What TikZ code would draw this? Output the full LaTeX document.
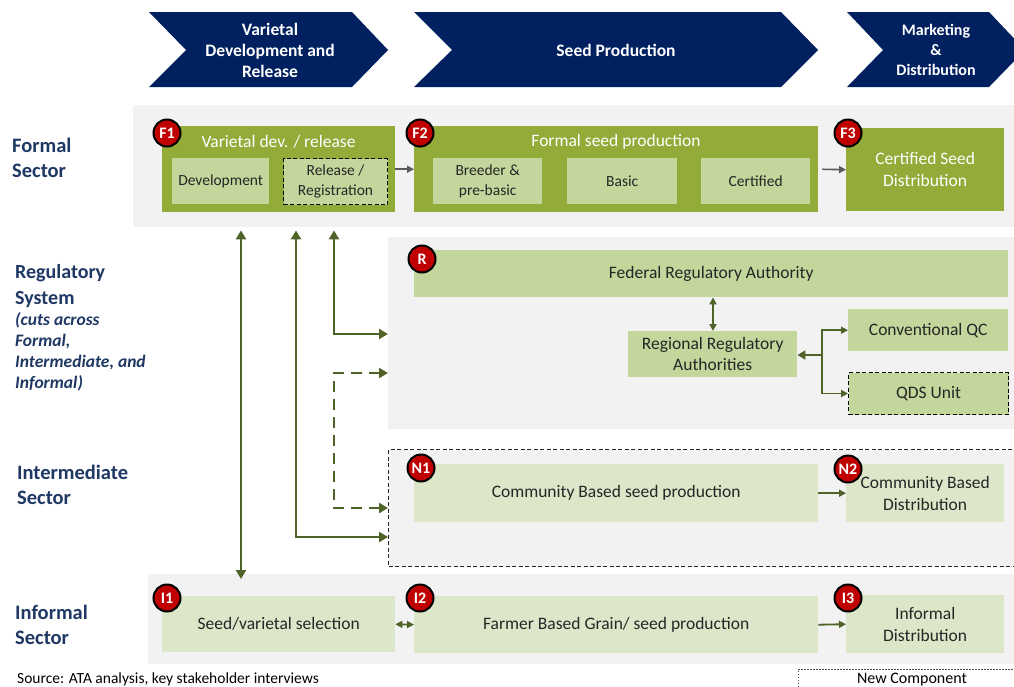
\documentclass[tikz,border=0pt]{standalone}
\usepackage{fontspec}
\setmainfont{Carlito}
\usetikzlibrary{arrows.meta}
\definecolor{navy}{HTML}{002060}
\definecolor{olivebox}{HTML}{93AB38}
\definecolor{lightgreen}{HTML}{C3D69B}
\definecolor{palegreen}{HTML}{DCE6C8}
\definecolor{bandgray}{HTML}{F2F2F2}
\definecolor{arrowolive}{HTML}{4F6228}
\definecolor{arrowgray}{HTML}{595959}
\definecolor{badgered}{HTML}{C00000}
\definecolor{labelblue}{HTML}{1F3864}
\definecolor{txt}{HTML}{262626}
\tikzset{
  band/.style={fill=bandgray, draw=none, inner sep=0pt, anchor=north west},
  darkbox/.style={fill=olivebox, draw=none, inner sep=0pt, anchor=north west, text=white, align=center, font=\fontsize{17.5}{22}\selectfont},
  subbox/.style={fill=lightgreen, draw=none, inner sep=0pt, anchor=north west, text=txt, align=center, font=\fontsize{15.5}{19.5}\selectfont},
  palebox/.style={fill=palegreen, draw=none, inner sep=0pt, anchor=north west, text=txt, align=center, font=\fontsize{17.5}{22}\selectfont},
  badge/.style={circle, fill=badgered, draw=black, line width=2pt, minimum size=27pt, inner sep=0pt, text=white, font=\bfseries\fontsize{16}{16}\selectfont},
  chevtext/.style={text=white, align=center, font=\bfseries\fontsize{17.5}{21}\selectfont},
  sectorlabel/.style={anchor=base west, align=left, text=labelblue, font=\bfseries\fontsize{20.5}{25}\selectfont, inner sep=0pt},
  boxtitle/.style={text=white, font=\fontsize{17.5}{20}\selectfont},
  bigarrow/.style={draw=arrowolive, line width=2.6pt, -{Triangle[length=9pt,width=10pt]}},
  bigarrowboth/.style={draw=arrowolive, line width=2.6pt, {Triangle[length=9pt,width=10pt]}-{Triangle[length=9pt,width=10pt]}},
  smallarrow/.style={draw=arrowolive, line width=1.8pt, -{Triangle[length=7pt,width=7pt]}},
  smallarrowboth/.style={draw=arrowolive, line width=1.8pt, {Triangle[length=7pt,width=7pt]}-{Triangle[length=7pt,width=7pt]}},
  grayarrow/.style={draw=arrowgray, line width=1.6pt, -{Triangle[length=7pt,width=7pt]}},
  olivedash/.style={dash pattern=on 11pt off 7pt},
  newdash/.style={draw=black!85, line width=1pt, dash pattern=on 4pt off 2.5pt}
}
\begin{document}
\begin{tikzpicture}[x=1pt,y=-1pt]
\useasboundingbox (0,0) rectangle (1014,686);
\clip (0,0) rectangle (1014,686);
\fill[white] (0,0) rectangle (1014,686);

% chevrons
\fill[navy] (149,12) -- (352,12) -- (388,50) -- (352,87) -- (149,87) -- (186,50) -- cycle;
\fill[navy] (414,12) -- (781,12) -- (818,50) -- (781,87) -- (414,87) -- (452,50) -- cycle;
\fill[navy] (847,12) -- (989,12) -- (1025,50) -- (989,87) -- (847,87) -- (883,50) -- cycle;
\node[chevtext] (c1) at (270,50) {Varietal\\Development and\\Release};
\node[chevtext] (c2) at (616,50) {Seed Production};
\node[chevtext, font=\bfseries\fontsize{16}{20}\selectfont] (c3) at (936,50) {Marketing\\\&\\Distribution};

% bands
\node[band, minimum width=890pt, minimum height=122pt] (FB) at (133,105) {};
\node[band, minimum width=640pt, minimum height=192pt] (RB) at (388,237) {};
\node[band, newdash, minimum width=640pt, minimum height=117pt] (IB) at (388,449) {};
\node[band, minimum width=870pt, minimum height=90pt] (NB) at (148,574) {};

% sector labels (anchor = baseline of last line)
\node[sectorlabel] (lf) at (12,177) {Formal\\Sector};
\node[sectorlabel, font=\bfseries\fontsize{20}{26}\selectfont] (lr) at (15,304) {Regulatory\\System};
\node[sectorlabel, font=\bfseries\itshape\fontsize{17.5}{21}\selectfont] (lr2) at (15,388) {(cuts across\\Formal,\\Intermediate, and\\Informal)};
\node[sectorlabel] (li) at (17,504) {Intermediate\\Sector};
\node[sectorlabel] (ln) at (15,644) {Informal\\Sector};

% formal sector
\node[darkbox, minimum width=233pt, minimum height=86pt] (F1) at (162,126) {};
\node[boxtitle] (F1t) at (278.5,142) {Varietal dev. / release};
\node[subbox, minimum width=97pt, minimum height=46pt] (dev) at (172,158) {Development};
\node[subbox, newdash, draw=black, minimum width=104pt, minimum height=46pt] (rel) at (283,158) {Release /\\Registration};

\node[darkbox, minimum width=404pt, minimum height=86pt] (F2) at (414,126) {};
\node[boxtitle] (F2t) at (616,142) {Formal seed production};
\node[subbox, minimum width=109pt, minimum height=46pt] (bre) at (433,158) {Breeder \&\\pre-basic};
\node[subbox, minimum width=110pt, minimum height=46pt] (bas) at (567,158) {Basic};
\node[subbox, minimum width=109pt, minimum height=46pt] (cer) at (701,158) {Certified};

\node[darkbox, minimum width=158pt, minimum height=83pt] (F3) at (846,128) {Certified Seed\\Distribution};

\draw[grayarrow] (F1.east) -- (F2.west);
\draw[grayarrow, shorten <=4pt] (F2.east) -- (F3.west);

% regulatory
\node[subbox, minimum width=594pt, minimum height=47pt, font=\fontsize{17.5}{22}\selectfont] (fed) at (414,250) {Federal Regulatory Authority};
\node[subbox, minimum width=169pt, minimum height=46pt, font=\fontsize{17.5}{21.5}\selectfont] (reg) at (628,331) {Regional Regulatory\\Authorities};
\node[subbox, minimum width=160pt, minimum height=42pt, font=\fontsize{17.5}{22}\selectfont] (cqc) at (848,309) {Conventional QC};
\node[subbox, newdash, draw=black, minimum width=160pt, minimum height=42pt, font=\fontsize{17.5}{22}\selectfont] (qds) at (848,372) {QDS Unit};
\coordinate (br) at (822,355);
\draw[smallarrowboth] (fed.south -| 713,0) -- (reg.north -| 713,0);
\draw[draw=arrowolive, line width=2.6pt, -{Triangle[length=8pt,width=9pt]}] (br) -- (reg.east |- br);
\draw[smallarrow] (br) |- (cqc.west);
\draw[smallarrow] (br) |- (qds.west);

% intermediate
\node[palebox, minimum width=404pt, minimum height=58pt] (N1) at (414,464) {Community Based seed production};
\node[palebox, minimum width=158pt, minimum height=58pt] (N2) at (846,464) {Community Based\\Distribution};
\draw[smallarrow] (N1.east) -- (N2.west);

% informal
\node[palebox, minimum width=233pt, minimum height=56pt] (I1) at (162,596) {Seed/varietal selection};
\node[palebox, minimum width=404pt, minimum height=57pt] (I2) at (414,596) {Farmer Based Grain/ seed production};
\node[palebox, minimum width=158pt, minimum height=58pt] (I3) at (846,595) {Informal\\Distribution};
\draw[smallarrowboth] (I1.east) -- (I2.west);
\draw[smallarrow] (I2.east) -- (I3.west);

% vertical connectors
\coordinate (xA) at (241,0);
\coordinate (xB) at (296,0);
\coordinate (xC) at (334,0);
\coordinate (yB) at (0,537);
\coordinate (yC) at (0,334);
\coordinate (yD1) at (0,373);
\coordinate (yD2) at (0,508);
\draw[bigarrowboth] ([yshift=-3pt]FB.south -| xA) -- ([yshift=-5pt]NB.north -| xA);
\draw[bigarrowboth] ([yshift=-3pt]FB.south -| xB) |- (IB.west |- yB);
\draw[bigarrowboth] ([yshift=-3pt]FB.south -| xC) |- (RB.west |- yC);
\draw[bigarrowboth, olivedash] (RB.west |- yD1) -| (xC |- yD2) -- (IB.west |- yD2);

% badges
\node[badge] (bF1) at (167,133) {F1};
\node[badge] (bF2) at (420,133) {F2};
\node[badge] (bF3) at (848,133) {F3};
\node[badge] (bR) at (422,259) {R};
\node[badge] (bN1) at (421,468) {N1};
\node[badge] (bN2) at (848,469) {N2};
\node[badge] (bI1) at (167,598) {I1};
\node[badge] (bI2) at (420,598) {I2};
\node[badge] (bI3) at (848,598) {I3};

% footer
\node[anchor=base west, inner sep=0pt, text=black, font=\fontsize{15.5}{18}\selectfont] (src) at (17,683) {Source: ATA analysis, key stakeholder interviews};
\draw[black!70, line width=0.6pt, dash pattern=on 1.5pt off 1.5pt] (798,690) -- (798,669) -- (1020,669);
\node[anchor=base, text=black, font=\fontsize{16}{18}\selectfont, inner sep=0pt] (nc) at (912,683) {New Component};
\end{tikzpicture}
\end{document}
